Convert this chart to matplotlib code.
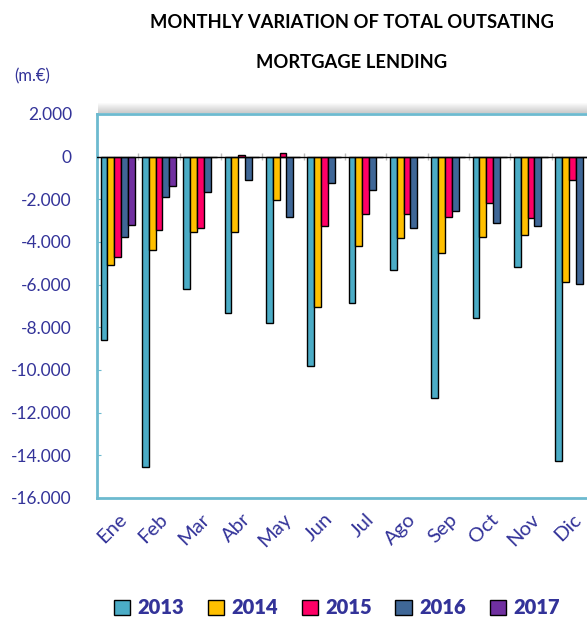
import matplotlib.pyplot as plt
import numpy as np
from matplotlib.patches import Rectangle

# Data (m.€)
months = ["Ene", "Feb", "Mar", "Abr", "May", "Jun", "Jul", "Ago", "Sep", "Oct", "Nov", "Dic"]
years = ["2013", "2014", "2015", "2016", "2017"]
v2013 = [-8580, -14530, -6190, -7310, -7780, -9800, -6840, -5300, -11300, -7550, -5150, -14250]
v2014 = [-5060, -4360, -3520, -3520, -2020, -7030, -4170, -3800, -4500, -3750, -3660, -5870]
v2015 = [-4690, -3420, -3330, 80, 190, -3230, -2670, -2670, -2810, -2160, -2890, -1080]
v2016 = [-3750, -1875, -1640, -1080, -2850, -1220, -1550, -3330, -2530, -3110, -3250, -5970]
v2017 = [-3190, -1360, 0, 0, 0, 0, 0, 0, 0, 0, 0, 0]
series = [v2013, v2014, v2015, v2016, v2017]
colors = ["#4BACC6", "#FFC000", "#FF0066", "#3F6797", "#7030A0"]

txt = "#333399"
frame = "#6DBACF"
plt.rcParams['font.family'] = ['Lato', 'DejaVu Sans']

fig = plt.figure(figsize=(5.87, 6.17), dpi=100)
ax = fig.add_axes([97 / 587, 1 - 498 / 617, 496 / 587, 384 / 617])

x = np.arange(len(months))
w = 0.165
for i, (vals, c, lab) in enumerate(zip(series, colors, years)):
    ax.bar(x - 2 * w + i * w, vals, w, color=c, edgecolor="black", linewidth=1,
           label=lab, zorder=3)

ax.axhline(0, color="black", linewidth=1, zorder=4)
ax.vlines(np.arange(len(months) + 1) - 0.5, -150, 150, color="#BBBBBB", linewidth=1, zorder=2)

ax.set_xlim(-0.5, len(months) - 0.5)
ax.set_ylim(-16000, 2000)
yt = np.arange(-16000, 2001, 2000)
ax.set_yticks(yt)
ax.set_yticklabels([f"{v:,.0f}".replace(",", ".") for v in yt], color=txt, fontsize=12.5)
ax.tick_params(axis="y", length=3, direction="in", color=frame, pad=18)
ax.set_xticks(x)
ax.set_xticklabels(months, rotation=45, ha="right", rotation_mode="anchor",
                   color=txt, fontsize=14.5)
ax.tick_params(axis="x", length=0, pad=9)

for s in ["left", "bottom", "top"]:
    ax.spines[s].set_color(frame)
    ax.spines[s].set_linewidth(2)
ax.spines["right"].set_visible(False)

# shadow above the plot area
for k in range(10):
    fig.patches.append(Rectangle((98 / 587, 1 - (113 - k) / 617), 492 / 587, 1 / 617,
                                 transform=fig.transFigure, color="gray",
                                 alpha=0.4 * (1 - k / 10), linewidth=0))

fig.text(352 / 587, 1 - 22 / 617, "MONTHLY VARIATION OF TOTAL OUTSATING",
         ha="center", va="center", fontsize=13.2, fontweight="bold")
fig.text(352 / 587, 1 - 62 / 617, "MORTGAGE LENDING",
         ha="center", va="center", fontsize=13.2, fontweight="bold")
fig.text(32 / 587, 1 - 76 / 617, "(m.€)", ha="center", va="center", fontsize=12, color=txt)

leg = fig.legend(loc="center", bbox_to_anchor=(337 / 587, 1 - 608 / 617), ncol=5,
                 frameon=False, handlelength=0.8, handleheight=0.8, handletextpad=0.4,
                 columnspacing=1.15, prop={"weight": "heavy", "size": 14.5})
for t in leg.get_texts():
    t.set_color(txt)

fig.savefig("out.png", dpi=100)
